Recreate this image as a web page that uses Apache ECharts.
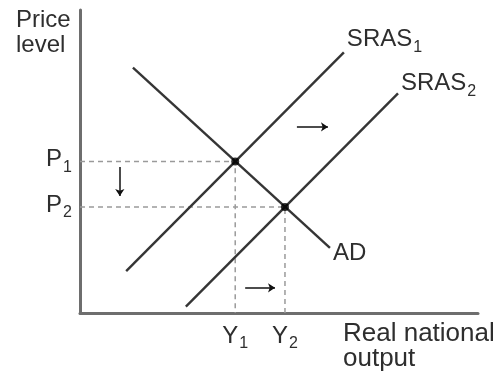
<!DOCTYPE html>
<html>
<head>
<meta charset="utf-8">
<script src="https://cdn.jsdelivr.net/npm/echarts@6/dist/echarts.min.js"></script>
<style>
  html, body { margin: 0; padding: 0; background: #fff; }
  #chart { width: 502px; height: 378px; }
</style>
</head>
<body>
<div id="chart"></div>
<script>
// Short-run aggregate supply shift: SRAS1 -> SRAS2 against a fixed AD curve
const adCurve    = [[1.33, 8.1], [6.28, 2.15]];
const sras1Curve = [[1.16, 1.38], [6.63, 8.6]];
const sras2Curve = [[2.66, 0.21], [7.99, 7.25]];

// Equilibria: E1 = (Y1, P1), E2 = (Y2, P2)
const equilibria = [[3.9, 5.0], [5.15, 3.5]];

// Tick labels on each axis
const priceTicks  = [5.0, 3.5];
const priceLabels = ['P|1', 'P|2'];
const outputTicks  = [3.9, 5.15];
const outputLabels = ['Y|1', 'Y|2'];

// Movement arrows [from, to]
const arrows = [
  [[1.0, 4.82], [1.0, 3.86]],
  [[5.45, 6.14], [6.23, 6.14]],
  [[4.15, 0.83], [4.9, 0.83]]
];

const FONT = 'Liberation Sans, Arial, Helvetica, sans-serif';
const TEXT = '#2e2e2e';
const CURVE = '#353535';
const GUIDE = '#9a9a9a';

// main text sits at the top of the line box, the subscript at the bottom
const rich = {
  m: { fontSize: 24, verticalAlign: 'top', color: TEXT, fontFamily: FONT },
  s: { fontSize: 16, lineHeight: 28, verticalAlign: 'bottom', padding: [0, 0, 0, 1], color: TEXT, fontFamily: FONT }
};
const sub = (t) => { const p = t.split('|'); return '{m|' + p[0] + '}{s|' + p[1] + '}'; };

function tickFormatter(ticks, labels) {
  return (v) => {
    const i = ticks.findIndex((t) => Math.abs(t - v) < 1e-6);
    return i >= 0 ? sub(labels[i]) : '';
  };
}

function curveSeries(name, data, labelText, offset) {
  return {
    name: name,
    type: 'line',
    data: data,
    showSymbol: false,
    symbol: 'none',
    silent: true,
    z: 3,
    lineStyle: { color: CURVE, width: 2.4 },
    endLabel: {
      show: true,
      formatter: () => labelText,
      offset: offset,
      distance: 0,
      align: 'left',
      verticalAlign: 'middle',
      rich: rich
    }
  };
}

function guideSeries(pt) {
  return {
    type: 'line',
    data: [[0, pt[1]], [pt[0], pt[1]], [pt[0], 0]],
    symbol: 'none',
    silent: true,
    z: 2,
    lineStyle: { color: GUIDE, width: 1.5, type: [5, 4] }
  };
}

const chart = echarts.init(document.getElementById('chart'), null, { renderer: 'canvas' });

chart.setOption({
  animation: false,
  backgroundColor: '#ffffff',
  grid: { left: 80, right: 24, top: 10, bottom: 65, containLabel: false },
  xAxis: {
    type: 'value', min: 0, max: 10,
    axisLine: { show: true, lineStyle: { color: '#6e6e6e', width: 3 } },
    axisTick: { show: false },
    splitLine: { show: false },
    axisLabel: {
      customValues: outputTicks,
      margin: 11,
      formatter: tickFormatter(outputTicks, outputLabels),
      rich: rich
    }
  },
  yAxis: {
    type: 'value', min: 0, max: 10,
    axisLine: { show: true, lineStyle: { color: '#6e6e6e', width: 3 } },
    axisTick: { show: false },
    splitLine: { show: false },
    axisLabel: {
      customValues: priceTicks,
      margin: 8,
      formatter: tickFormatter(priceTicks, priceLabels),
      rich: rich
    }
  },
  graphic: [
    {
      type: 'text', left: 16, top: 8,
      style: { text: 'Price\nlevel', font: '24px ' + FONT, lineHeight: 25, fill: TEXT }
    },
    {
      type: 'text', left: 343, top: 321,
      style: { text: 'Real national\noutput', font: '26px ' + FONT, lineHeight: 25, fill: TEXT }
    }
  ],
  series: [
    guideSeries(equilibria[0]),
    guideSeries(equilibria[1]),
    curveSeries('SRAS1', sras1Curve, '{m|SRAS}{s|1}', [3, -11]),
    curveSeries('SRAS2', sras2Curve, '{m|SRAS}{s|2}', [3, -8]),
    curveSeries('AD', adCurve, '{m|AD}', [3, 6]),
    {
      type: 'lines',
      coordinateSystem: 'cartesian2d',
      silent: true,
      z: 4,
      symbol: ['none', 'arrow'],
      symbolSize: 7,
      lineStyle: { color: '#111', width: 1.5, opacity: 1 },
      data: arrows.map((a) => ({ coords: a }))
    },
    {
      type: 'scatter',
      data: equilibria,
      symbol: 'circle',
      symbolSize: 8,
      silent: true,
      z: 5,
      itemStyle: { color: '#000' }
    }
  ]
});
</script>
</body>
</html>
